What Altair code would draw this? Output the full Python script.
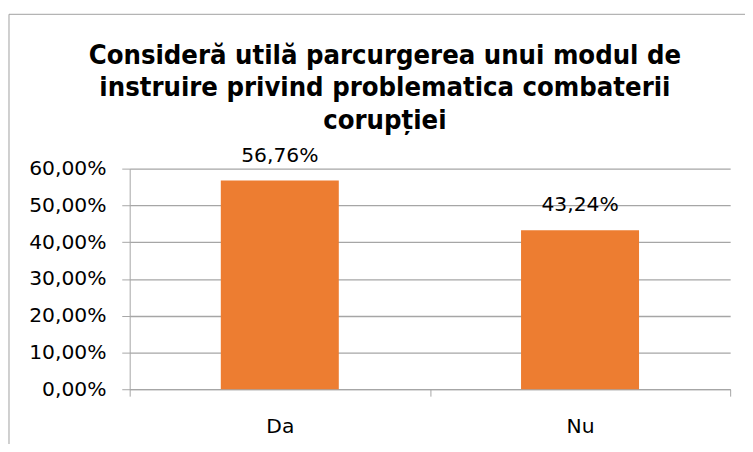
import altair as alt
import pandas as pd

categories = ["Da", "Nu"]
values = [0.5676, 0.4324]
y_ticks = [0, 0.1, 0.2, 0.3, 0.4, 0.5, 0.6]
title_lines = ["Consideră utilă parcurgerea unui modul de",
               "instruire privind problematica combaterii",
               "corupției"]

df = pd.DataFrame({"cat": categories, "val": values})

GRID = "#A6A6A6"
ORANGE = "#ED7D31"
W, H = 607, 223

base = alt.Chart(df)

one = alt.Data(values=[{"a": 1}])

frame = alt.Chart(one).mark_rect(
    fill=None, stroke="#A0A0A0", strokeWidth=1
).encode(
    x=alt.value(-122), x2=alt.value(800), y=alt.value(-156), y2=alt.value(500)
)

title = alt.Chart(one).mark_text(
    font="DejaVu Sans Condensed", fontSize=27.5, fontWeight="bold", color="#000000",
    lineHeight=33, baseline="alphabetic", align="center"
).encode(
    x=alt.value(258), y=alt.value(-106), text=alt.value(title_lines)
)

yscale = alt.Scale(domain=[0, 0.6], nice=False, zero=True)
xscale = alt.Scale(paddingInner=0, paddingOuter=0)

x_axis = alt.Axis(title=None, labelAngle=0, grid=False, tickBand="extent",
                  tickSize=7, tickColor=GRID, domainColor=GRID,
                  labelFont="DejaVu Sans", labelFontSize=20.5, labelColor="#000000",
                  labelPadding=21)
y_axis = alt.Axis(title=None, values=y_ticks,
                  labelExpr="replace(format(datum.value, '.2%'), '.', ',')",
                  labelOverlap=False,
                  grid=True, gridColor=GRID, gridWidth=1.3, tickSize=8, tickColor=GRID,
                  domainColor=GRID, labelFont="DejaVu Sans", labelFontSize=20.5,
                  labelColor="#000000", labelPadding=16)

bars = base.mark_bar(color=ORANGE, width=alt.RelativeBandSize(0.393)).encode(
    x=alt.X("cat:N", sort=categories, scale=xscale, axis=x_axis),
    y=alt.Y("val:Q", scale=yscale, axis=y_axis),
)

labels = base.transform_calculate(
    lbl="replace(format(datum.val, '.2%'), '.', ',')"
).mark_text(font="DejaVu Sans", fontSize=20.5, color="#000000", dy=-19, baseline="alphabetic").encode(
    x=alt.X("cat:N", sort=categories, scale=xscale, axis=x_axis),
    y=alt.Y("val:Q", scale=yscale, axis=y_axis),
    text="lbl:N",
)

chart = alt.layer(frame, title, bars, labels).properties(
    width=W, height=H,
    autosize=alt.AutoSizeParams(type="none"),
    padding={"left": 123, "top": 160, "right": 15, "bottom": 53},
).configure(background="white").configure_view(stroke=None)

chart.save("out.html", embed_options={"renderer": "svg", "actions": False})
